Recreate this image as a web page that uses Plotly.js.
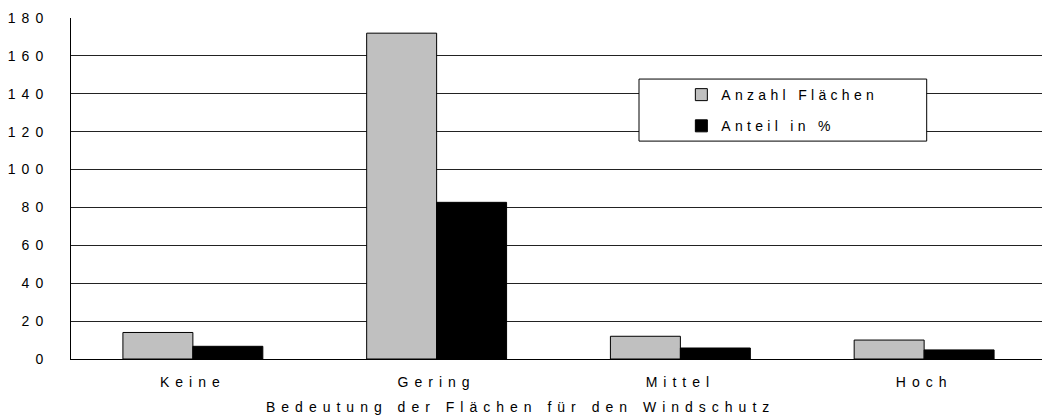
<!DOCTYPE html>
<html>
<head>
<meta charset="utf-8">
<script src="https://cdn.plot.ly/plotly-3.0.1.min.js"></script>
<style>
html, body { margin: 0; padding: 0; background: #fff; overflow: hidden; width: 1042px; height: 417px; }
#chart { width: 1050px; height: 417px; }
.xtick text, .ytick text, .annotation-text { letter-spacing: 6px; }
.legendtext { letter-spacing: 4.3px; }
</style>
</head>
<body>
<div id="chart"></div>
<script>
const categories = ["Keine", "Gering", "Mittel", "Hoch"];
const anzahlFlaechen = [14, 172, 12, 10];
const anteilProzent = [6.7, 82.7, 5.8, 4.8];
const yTickValues = [0, 20, 40, 60, 80, 100, 120, 140, 160, 180];
const seriesNames = ["Anzahl Flächen", "Anteil in %"];
const xAxisTitle = "Bedeutung der Flächen für den Windschutz";

const font = { family: "Liberation Sans, Arial, sans-serif", size: 14, color: "#000" };

const traces = [
  {
    type: "bar", name: seriesNames[0], x: categories, y: anzahlFlaechen,
    marker: { color: "#c0c0c0", line: { color: "#000", width: 1 } },
    legendgroup: "a", hoverinfo: "skip"
  },
  {
    type: "bar", name: seriesNames[1], x: categories, y: anteilProzent,
    marker: { color: "#000", line: { color: "#000", width: 1 } },
    legendgroup: "b", hoverinfo: "skip"
  }
];

const layout = {
  width: 1050, height: 417,
  margin: { l: 71, r: 4, t: 18, b: 58 },
  paper_bgcolor: "#fff", plot_bgcolor: "#fff",
  font: font,
  barmode: "group", bargap: 0.426, bargroupgap: 0,
  showlegend: true,
  legend: {
    x: 0.626, y: 0.821, xanchor: "left", yanchor: "top",
    bgcolor: "rgba(0,0,0,0)", borderwidth: 0,
    tracegroupgap: 10, font: font, traceorder: "grouped"
  },
  xaxis: {
    type: "category", showline: true, linecolor: "#000", linewidth: 1,
    ticks: "", showgrid: false, ticklabelstandoff: 10, tickfont: font
  },
  yaxis: {
    range: [0, 180], tickvals: yTickValues, ticktext: yTickValues.map(String),
    showgrid: true, gridcolor: "#222", gridwidth: 1,
    showline: true, linecolor: "#000", linewidth: 1,
    zeroline: false, ticks: "", ticklabelstandoff: 18, tickfont: font
  },
  shapes: [
    { type: "rect", xref: "paper", yref: "paper", layer: "above",
      x0: (639 - 71) / 975, x1: (926.7 - 71) / 975,
      y0: (358.7 - 141) / 340.7, y1: (358.7 - 79) / 340.7,
      line: { color: "#000", width: 1 }, fillcolor: "#fff" }
  ],
  annotations: [
    { text: xAxisTitle, xref: "paper", yref: "paper",
      x: (520 - 71) / 975, y: -(407 - 358.7) / 340.7,
      xanchor: "center", yanchor: "middle", showarrow: false, font: font }
  ]
};

Plotly.newPlot("chart", traces, layout, { staticPlot: true, displayModeBar: false });
</script>
</body>
</html>
